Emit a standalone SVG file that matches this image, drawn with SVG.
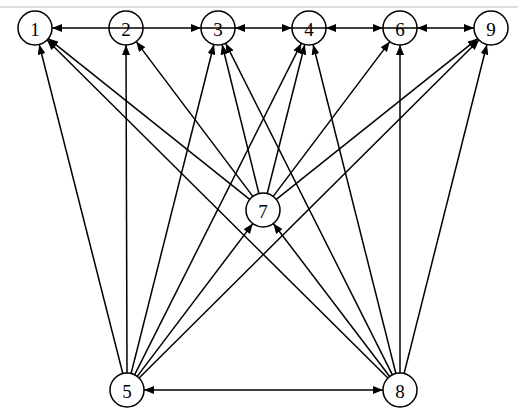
<svg xmlns="http://www.w3.org/2000/svg" width="518" height="418" viewBox="0 0 518 418">
<defs>
<style>
.node circle{fill:none;stroke:#000;stroke-width:1.5}
.node text{font-family:"Liberation Serif","Times New Roman",serif;font-size:19px;fill:#000;text-anchor:middle;dominant-baseline:central}
#edges line{stroke:#000;stroke-width:1.5;fill:none}
.a{marker-end:url(#ah)}
.b{marker-start:url(#ah);marker-end:url(#ah)}
</style>
<marker id="ah" markerUnits="userSpaceOnUse" markerWidth="10" markerHeight="8" refX="10" refY="4" orient="auto-start-reverse" viewBox="0 0 10 8">
<path d="M0,0 L10,4 L0,8 z" fill="#000"/>
</marker>
</defs>
<rect width="518" height="418" fill="#fff"/>
<line x1="0" y1="7" x2="518" y2="7" stroke="#bbb" stroke-width="1"/>
<g id="edges">
<line class="b" x1="52" y1="28" x2="201" y2="28"/>
<line x1="201" y1="28" x2="235" y2="28"/>
<line class="b" x1="235" y1="28" x2="292" y2="28"/>
<line x1="292" y1="28" x2="326" y2="28"/>
<line class="b" x1="326" y1="28" x2="383" y2="28"/>
<line x1="383" y1="28" x2="417" y2="28"/>
<line class="b" x1="417" y1="28" x2="474" y2="28"/>
<line class="b" x1="144" y1="390" x2="383" y2="390"/>
<line class="a" x1="122.8" y1="373.5" x2="39.2" y2="44.5"/>
<line class="a" x1="127" y1="373" x2="126" y2="45"/>
<line class="a" x1="131.1" y1="373.5" x2="213.9" y2="44.5"/>
<line class="a" x1="134.6" y1="374.8" x2="301.4" y2="43.2"/>
<line class="a" x1="137.2" y1="376.4" x2="252.8" y2="223.6"/>
<line class="a" x1="139.1" y1="378" x2="479" y2="40"/>
<line class="a" x1="387.9" y1="378" x2="47.1" y2="40"/>
<line class="a" x1="392.4" y1="374.8" x2="225.6" y2="43.2"/>
<line class="a" x1="395.9" y1="373.5" x2="313.1" y2="44.5"/>
<line class="a" x1="400" y1="373" x2="400" y2="45"/>
<line class="a" x1="404.1" y1="373.5" x2="486.9" y2="44.5"/>
<line class="a" x1="389.7" y1="376.5" x2="273.3" y2="223.5"/>
<line class="a" x1="249.7" y1="199.4" x2="48.3" y2="38.6"/>
<line class="a" x1="252.8" y1="196.4" x2="136.2" y2="41.6"/>
<line class="a" x1="258.9" y1="193.5" x2="222.1" y2="44.5"/>
<line class="a" x1="267.2" y1="193.5" x2="304.8" y2="44.5"/>
<line class="a" x1="273.2" y1="196.4" x2="389.8" y2="41.6"/>
<line class="a" x1="276.3" y1="199.4" x2="477.7" y2="38.6"/>
</g>
<g id="n1" class="node"><circle cx="35" cy="28" r="17"/><text x="35" y="29">1</text></g>
<g id="n2" class="node"><circle cx="126" cy="28" r="17"/><text x="126" y="29">2</text></g>
<g id="n3" class="node"><circle cx="218" cy="28" r="17"/><text x="218" y="29">3</text></g>
<g id="n4" class="node"><circle cx="309" cy="28" r="17"/><text x="309" y="29">4</text></g>
<g id="n6" class="node"><circle cx="400" cy="28" r="17"/><text x="400" y="29">6</text></g>
<g id="n9" class="node"><circle cx="491" cy="28" r="17"/><text x="491" y="29">9</text></g>
<g id="n7" class="node"><circle cx="263" cy="210" r="17"/><text x="263" y="211">7</text></g>
<g id="n5" class="node"><circle cx="127" cy="390" r="17"/><text x="127" y="391">5</text></g>
<g id="n8" class="node"><circle cx="400" cy="390" r="17"/><text x="400" y="391">8</text></g>
</svg>
